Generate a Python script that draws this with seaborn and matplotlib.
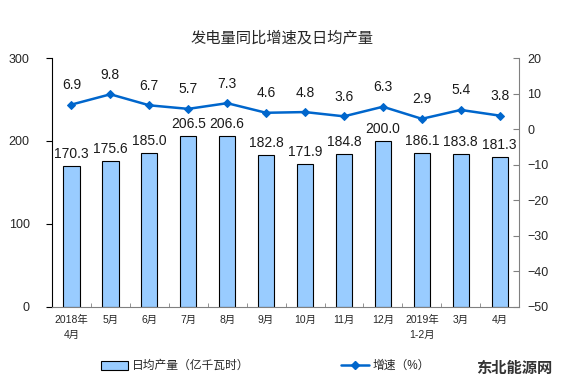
import numpy as np
import pandas as pd
import matplotlib
matplotlib.use("Agg")
import matplotlib.pyplot as plt
import seaborn as sns
from matplotlib.patches import Patch
from matplotlib.lines import Line2D

# Data
months = ['2018年\n4月', '5月', '6月', '7月', '8月', '9月', '10月', '11月', '12月',
          '2019年\n1-2月', '3月', '4月']
daily_output = [170.3, 175.6, 185.0, 206.5, 206.6, 182.8, 171.9, 184.8, 200.0, 186.1, 183.8, 181.3]
growth = [6.9, 9.8, 6.7, 5.7, 7.3, 4.6, 4.8, 3.6, 6.3, 2.9, 5.4, 3.8]

sns.set_style("white")
plt.rcParams['font.family'] = ['Liberation Sans', 'Noto Sans CJK SC', 'DejaVu Sans']

bar_color = '#99CCFF'
line_color = '#0066CC'

df = pd.DataFrame({'month': months, 'output': daily_output, 'growth': growth})

fig = plt.figure(figsize=(5.84, 3.92), dpi=100)
ax = fig.add_axes([0.089, 0.217, 0.8, 0.635])

sns.barplot(data=df, x='month', y='output', color=bar_color, width=0.42,
            edgecolor='black', linewidth=0.8, saturation=1, ax=ax)
ax.set_ylim(0, 300)
ax.set_yticks([0, 100, 200, 300])
ax.set_xlim(-0.5, len(months) - 0.5)
ax.set_xlabel('')
ax.set_ylabel('')
ax.tick_params(axis='y', labelsize=9, length=4, direction='out', color='black', left=True, pad=12)
ax.tick_params(axis='x', labelsize=7.5, length=0, pad=6)
for lbl in ax.get_xticklabels():
    lbl.set_linespacing(1.6)

# bar labels
for i, v in enumerate(daily_output):
    ax.text(i, v + 6, f'{v:.1f}', ha='center', va='bottom', fontsize=10, color='#1a1a1a')

# minor ticks between categories on bottom axis
ax.set_xticks(np.arange(0.5, len(months) - 0.5, 1), minor=True)
ax.tick_params(axis='x', which='minor', length=3, direction='in', color='#808080', bottom=True)

for side in ['top', 'right']:
    ax.spines[side].set_visible(False)
ax.spines['left'].set_color('black')
ax.spines['left'].set_linewidth(0.8)
ax.spines['bottom'].set_color('#808080')
ax.spines['bottom'].set_linewidth(0.8)

ax2 = ax.twinx()
x_pos = np.arange(len(months))
sns.lineplot(x=x_pos, y=growth, ax=ax2, color=line_color, linewidth=1.8,
             marker='D', markersize=4, markeredgecolor=line_color)
ax2.set_ylim(-50, 20)
ax2.set_yticks(np.arange(-50, 21, 10))
ax2.tick_params(axis='y', labelsize=9, length=4, direction='in', color='#808080', pad=6)
for side in ['top', 'left', 'bottom']:
    ax2.spines[side].set_visible(False)
ax2.spines['right'].set_color('#808080')
ax2.spines['right'].set_linewidth(0.8)
ax2.set_xlim(-0.5, len(months) - 0.5)

for i, v in enumerate(growth):
    ax2.text(i, v + 3.5, f'{v:.1f}', ha='center', va='bottom', fontsize=10, color='#1a1a1a')

fig.text(0.483, 0.903, '发电量同比增速及日均产量', ha='center', va='center', fontsize=11)

handles = [Patch(facecolor=bar_color, edgecolor='black', linewidth=0.8),
           Line2D([0], [0], color=line_color, linewidth=1.8, marker='D', markersize=4)]
fig.legend(handles[:1], ['日均产量（亿千瓦时）'], loc='center', bbox_to_anchor=(0.3, 0.066),
           frameon=False, fontsize=8.5, handlelength=2.3, handleheight=0.8, handletextpad=0.4)
fig.legend(handles[1:], ['增速（%）'], loc='center', bbox_to_anchor=(0.66, 0.066),
           frameon=False, fontsize=8.5, handlelength=2.3, handletextpad=0.3)

fig.text(0.88, 0.058, '东北能源网', ha='center', va='center', fontsize=11,
         fontweight='bold', color='#333333')

fig.savefig('out.png', dpi=100)
